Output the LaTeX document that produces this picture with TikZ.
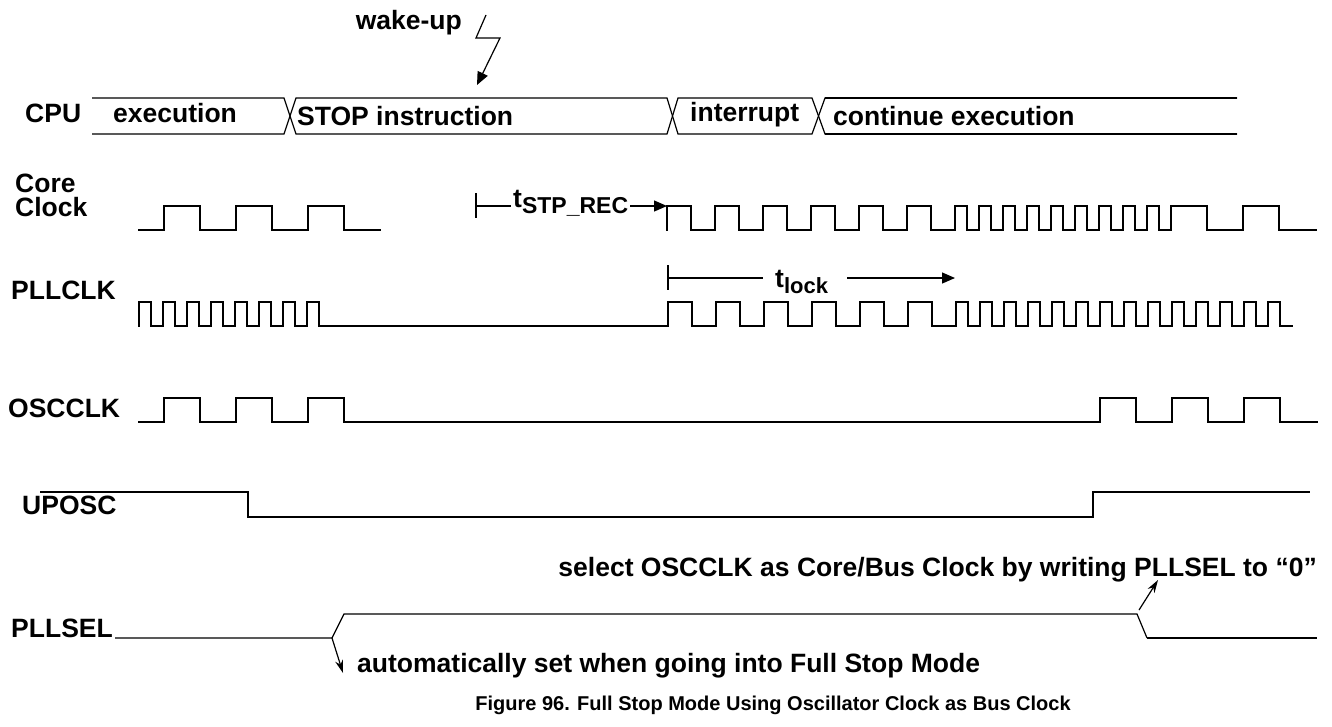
\documentclass[tikz,border=0pt]{standalone}
\usepackage{fontspec}
\setmainfont{Liberation Sans}
\usetikzlibrary{arrows.meta}
\begin{document}
\begin{tikzpicture}[x=1pt,y=-1pt,
  lbl/.style={font=\fontsize{26.5}{30}\selectfont\bfseries, inner sep=0pt},
  captxt/.style={font=\fontsize{20}{24}\selectfont\bfseries, inner sep=0pt},
  clk/.style={line width=2pt, line join=miter, line cap=rect},
  bus/.style={line width=1.2pt, line join=miter},
  busb/.style={line width=2pt, line join=miter},
  arr/.style={-{Triangle[length=13pt,width=11pt]}, line width=1.2pt},
  sarr/.style={-{Stealth[length=13pt,width=8pt]}, line width=1.2pt},
]
\useasboundingbox (0,0) rectangle (1332,726);
\fill[white] (0,0) rectangle (1332,726);

% ---------- labels ----------
\node[lbl, anchor=base west] (cpu) at (25,122) {CPU};
\node[lbl, anchor=base west] (core) at (15,192) {Core};
\node[lbl, anchor=base west] (clock) at (15,216) {Clock};
\node[lbl, anchor=base west] (pllclk) at (11,299) {PLLCLK};
\node[lbl, anchor=base west] (oscclk) at (8,417) {OSCCLK};
\node[lbl, anchor=base west] (uposc) at (22,514) {UPOSC};
\node[lbl, anchor=base west] (pllsel) at (11,637) {PLLSEL};

% ---------- CPU bus ----------
\draw[bus] (92,98) -- (284,98) -- (296,134) -- (667,134) -- (678,98) -- (812,98) -- (825,134) -- (1237,134);
\draw[bus] (92,134) -- (284,134) -- (296,98) -- (667,98) -- (678,134) -- (812,134) -- (825,98) -- (1237,98);
\draw[busb] (825,134) -- (1237,134);
\draw[busb] (825,98) -- (1237,98);
\node[lbl, anchor=base west] (exec) at (113,122) {execution};
\node[lbl, anchor=base west] (stop) at (297,125) {STOP instruction};
\node[lbl, anchor=base west] (intr) at (690,121) {interrupt};
\node[lbl, anchor=base west] (cont) at (833,125) {continue execution};

% ---------- wake-up ----------
\node[lbl, anchor=base east] (wake) at (462,29) {wake-up};
\coordinate (w1) at (486,15);
\coordinate (w2) at (476,38);
\coordinate (w3) at (500,38);
\coordinate (w4) at (477,85);
\draw[arr] (w1) -- (w2) -- (w3) -- (w4);

% ---------- Core clock ----------
\draw[clk] (139,230) -- (164,230) foreach \i in {1,...,3} { -- ++(0,-24) -- ++(36,0) -- ++(0,24) -- ++(36,0) };
\draw[clk] (667,230) foreach \i in {1,...,6} { -- ++(0,-24) -- ++(24,0) -- ++(0,24) -- ++(24,0) }
  foreach \i in {1,...,9} { -- ++(0,-24) -- ++(12,0) -- ++(0,24) -- ++(12,0) }
  -- ++(0,-24) -- ++(36,0) -- ++(0,24) -- ++(36,0) -- ++(0,-24) -- ++(36,0) -- ++(0,24) -- ++(37,0);

% t_STP_REC
\coordinate (s0) at (476,206);
\coordinate (s1) at (511,206);
\coordinate (s2) at (630,206);
\coordinate (s3) at (667,206);
\draw[bus] (476,193) -- (476,218);
\draw[bus] (s0) -- (s1);
\node[lbl, anchor=base west] (tstp) at (513,207) {t\raisebox{-6pt}{\fontsize{23}{26}\selectfont STP\_REC}};
\draw[arr] (s2) -- (s3);

% ---------- PLLCLK ----------
\draw[clk] (139,326) foreach \i in {1,...,8} { -- ++(0,-24) -- ++(12,0) -- ++(0,24) -- ++(12,0) }
  -- (668,326)
  foreach \i in {1,...,6} { -- ++(0,-24) -- ++(24,0) -- ++(0,24) -- ++(24,0) }
  foreach \i in {1,...,14} { -- ++(0,-24) -- ++(12,0) -- ++(0,24) -- ++(12,0) };

% t_lock
\coordinate (l0) at (668,278);
\coordinate (l1) at (763,278);
\coordinate (l2) at (847,278);
\coordinate (l3) at (955,278);
\draw[bus] (668,265) -- (668,290);
\draw[bus] (l0) -- (l1);
\node[lbl, anchor=base west] (tlock) at (775,287) {t\raisebox{-6pt}{\fontsize{22}{24}\selectfont lock}};
\draw[arr] (l2) -- (l3);

% ---------- OSCCLK ----------
\draw[clk] (139,422) -- (164,422) foreach \i in {1,...,3} { -- ++(0,-24) -- ++(36,0) -- ++(0,24) -- ++(36,0) }
  -- (1100,422) foreach \i in {1,...,3} { -- ++(0,-24) -- ++(36,0) -- ++(0,24) -- ++(36,0) } -- ++(1,0);

% ---------- UPOSC ----------
\draw[bus] (40,492) -- (248,492) -- (248,517) -- (1093,517) -- (1093,492) -- (1310,492);

% ---------- PLLSEL ----------
\coordinate (p1) at (332,638);
\coordinate (p2) at (1137,614);
\draw[bus] (115,638) -- (p1) -- (344,614) -- (p2) -- (1147,638);
\draw[busb] (1147,638) -- (1317,638);
\coordinate (a1) at (343,673);
\draw[sarr] (p1) -- (a1);
\node[lbl, anchor=base west] (auto) at (357,672) {automatically set when going into Full Stop Mode};
\coordinate (b0) at (1139,610);
\coordinate (b1) at (1158,580);
\draw[sarr] (b0) -- (b1);
\node[lbl, anchor=base east] (sel) at (1317,576) {select OSCCLK as Core/Bus Clock by writing PLLSEL to “0”};

% ---------- caption ----------
\node[captxt, anchor=base] (caption) at (773,710) {Figure 96. Full Stop Mode Using Oscillator Clock as Bus Clock};
\end{tikzpicture}
\end{document}
